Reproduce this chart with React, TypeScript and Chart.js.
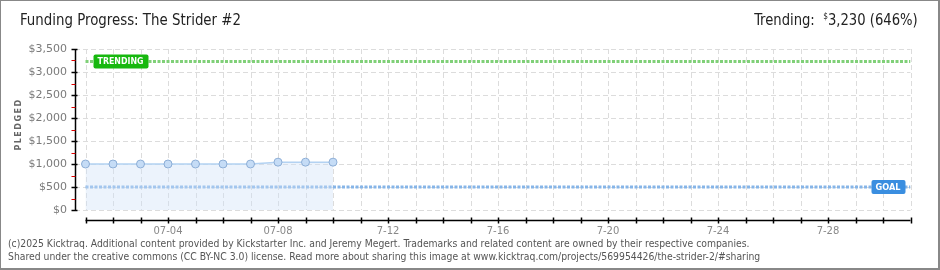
import React, { useEffect, useRef } from "react";
import { Chart, registerables } from "chart.js";

Chart.register(...registerables);

// ---- data ----
const days: number[] = [1, 2, 3, 4, 5, 6, 7, 8, 9, 10];
const pledged: number[] = [1000, 1000, 1000, 1000, 1000, 1000, 1000, 1040, 1040, 1040];
const goal = 500;
const trending = 3230;
const trendingPct = 646;
const firstDay = 1;
const lastDay = 31;
const xTickDays: number[] = [4, 8, 12, 16, 20, 24, 28];
const xTickLabels: string[] = ["07-04", "07-08", "7-12", "7-16", "7-20", "7-24", "7-28"];
const yMax = 3500;
const yMajorStep = 500;
const yMinorStep = 250;

const fmtMoney = (v: number) => "$" + v.toLocaleString("en-US");

const axisPlugin = {
  id: "kickAxes",
  beforeDatasetsDraw(chart: any) {
    const { ctx, chartArea, scales } = chart;
    const xs = scales.x;
    const ys = scales.y;
    ctx.save();
    ctx.strokeStyle = "#dcdcdc";
    ctx.lineWidth = 1;
    ctx.setLineDash([5, 3]);
    for (let v = 0; v <= yMax; v += yMajorStep) {
      const py = Math.round(ys.getPixelForValue(v)) + 0.5;
      ctx.beginPath();
      ctx.moveTo(chartArea.left, py);
      ctx.lineTo(chartArea.right, py);
      ctx.stroke();
    }
    for (let d = firstDay; d <= lastDay; d++) {
      const px = Math.round(xs.getPixelForValue(d)) + 0.5;
      ctx.beginPath();
      ctx.moveTo(px, chartArea.top);
      ctx.lineTo(px, chartArea.bottom);
      ctx.stroke();
    }
    ctx.restore();
  },
  afterDatasetsDraw(chart: any) {
    const { ctx, scales } = chart;
    const xs = scales.x;
    const ys = scales.y;
    ctx.save();
    const drawTag = (text: string, x: number, y: number, w: number, color: string, align: "left" | "right") => {
      const h = 14;
      const left = align === "left" ? x : x - w;
      ctx.fillStyle = color;
      ctx.beginPath();
      (ctx as any).roundRect(left, y - h / 2, w, h, 2);
      ctx.fill();
      ctx.fillStyle = "#ffffff";
      ctx.font = "bold 9px 'DejaVu Sans'";
      ctx.textBaseline = "middle";
      ctx.textAlign = "left";
      ctx.fillText(text, left + 4, y + 0.5, w - 9);
    };
    const ty = ys.getPixelForValue(trending);
    drawTag("TRENDING", xs.getPixelForValue(firstDay) + 8, ty, 55, "#17b80f", "left");
    const gy = ys.getPixelForValue(goal);
    drawTag("GOAL", xs.getPixelForValue(lastDay) - 5, gy, 34, "#3a8ee0", "right");
    ctx.restore();
  },
  afterDraw(chart: any) {
    const { ctx, chartArea, scales } = chart;
    const xs = scales.x;
    const ys = scales.y;
    ctx.save();
    const ax = Math.round(chartArea.left) + 0.5;
    ctx.strokeStyle = "#000";
    ctx.lineWidth = 1.5;
    ctx.beginPath();
    ctx.moveTo(ax, ys.getPixelForValue(yMax));
    ctx.lineTo(ax, ys.getPixelForValue(0));
    ctx.stroke();
    for (let v = 0; v <= yMax; v += yMinorStep) {
      const py = Math.round(ys.getPixelForValue(v)) + 0.5;
      ctx.beginPath();
      if (v % yMajorStep === 0) {
        ctx.strokeStyle = "#000";
        ctx.lineWidth = 1.5;
        ctx.moveTo(ax - 4, py);
        ctx.lineTo(ax + 2, py);
      } else {
        ctx.strokeStyle = "#e00000";
        ctx.lineWidth = 1;
        ctx.moveTo(ax - 4, py);
        ctx.lineTo(ax, py);
      }
      ctx.stroke();
    }
    const by = Math.round(chartArea.bottom) + 10.5;
    ctx.strokeStyle = "#000";
    ctx.lineWidth = 1.5;
    ctx.beginPath();
    ctx.moveTo(xs.getPixelForValue(firstDay), by);
    ctx.lineTo(xs.getPixelForValue(lastDay), by);
    ctx.stroke();
    for (let d = firstDay; d <= lastDay; d++) {
      const px = Math.round(xs.getPixelForValue(d)) + 0.5;
      ctx.beginPath();
      ctx.moveTo(px, by - 3);
      ctx.lineTo(px, by + 3);
      ctx.stroke();
    }
    ctx.translate(19, (chartArea.top + chartArea.bottom) / 2 - 5);
    ctx.rotate(-Math.PI / 2);
    ctx.fillStyle = "#666";
    ctx.font = "bold 8px 'DejaVu Sans'";
    (ctx as any).letterSpacing = "1.5px";
    ctx.textAlign = "center";
    ctx.textBaseline = "middle";
    ctx.fillText("PLEDGED", 0, 0);
    ctx.restore();
  },
};

export default function App() {
  const ref = useRef<HTMLCanvasElement | null>(null);
  useEffect(() => {
    document.body.style.margin = "0";
    const canvas = ref.current!;
    const lineData = (v: number) => [
      { x: firstDay, y: v },
      { x: lastDay, y: v },
    ];
    const chart = new Chart(canvas, {
      type: "line",
      data: {
        datasets: [
          {
            label: "Pledged",
            data: days.map((d, i) => ({ x: d, y: pledged[i] })),
            borderColor: "#b3d2f2",
            borderWidth: 1.5,
            backgroundColor: "rgba(208,226,248,0.4)",
            fill: "origin",
            pointRadius: 4,
            pointBackgroundColor: "#c5dcf6",
            pointBorderColor: "#8daed6",
            pointBorderWidth: 1,
            tension: 0,
          },
          {
            label: "Goal",
            data: lineData(goal),
            borderColor: "#86b5e8",
            borderWidth: 3,
            borderDash: [3, 1.5],
            pointRadius: 0,
            fill: false,
          },
          {
            label: "Trending",
            data: lineData(trending),
            borderColor: "#80d078",
            borderWidth: 3,
            borderDash: [3, 1.5],
            pointRadius: 0,
            fill: false,
          },
        ],
      },
      options: {
        animation: false,
        responsive: false,
        maintainAspectRatio: false,
        events: [],
        layout: { padding: { left: 0, right: 29.5, top: 49, bottom: 30 } },
        plugins: { legend: { display: false }, tooltip: { enabled: false }, title: { display: false } },
        scales: {
          x: {
            type: "linear",
            min: 0.618,
            max: lastDay,
            afterFit: (s: any) => {
              s.height = 30;
            },
            grid: { display: false, drawTicks: false },
            border: { display: false },
            ticks: {
              stepSize: 1,
              autoSkip: false,
              includeBounds: false,
              maxRotation: 0,
              padding: 15,
              color: "#888",
              font: { family: "'DejaVu Sans'", size: 10 },
              callback: (v: any) => {
                const i = xTickDays.indexOf(Number(v));
                return i >= 0 ? xTickLabels[i] : "";
              },
            },
          },
          y: {
            type: "linear",
            min: 0,
            max: yMax,
            afterFit: (s: any) => {
              s.width = 75;
            },
            grid: { display: false, drawTicks: false },
            border: { display: false },
            ticks: {
              stepSize: yMinorStep,
              autoSkip: false,
              padding: 8,
              color: "#7a7a7a",
              font: { family: "'DejaVu Sans'", size: 11 },
              callback: (v: any) => (Number(v) % yMajorStep === 0 ? fmtMoney(Number(v)) : ""),
            },
          },
        },
      },
      plugins: [axisPlugin],
    } as any);
    return () => chart.destroy();
  }, []);

  const cond: React.CSSProperties = { fontFamily: "'DejaVu Sans', sans-serif", fontStretch: "condensed", fontWeight: 400 };
  return (
    <div style={{ position: "relative", width: 940, height: 270, background: "#fff", overflow: "hidden" }}>
      <canvas ref={ref} width={940} height={270} style={{ position: "absolute", left: 0, top: 0, width: 940, height: 270 }} />
      <div style={{ ...cond, position: "absolute", left: 20, top: 10, fontSize: 16.5, color: "#222", whiteSpace: "nowrap", transform: "scaleX(0.9)", transformOrigin: "left center" }}>
        Funding Progress: The Strider #2
      </div>
      <div style={{ ...cond, position: "absolute", right: 22, top: 10, fontSize: 16, color: "#222", whiteSpace: "nowrap", transform: "scaleX(0.915)", transformOrigin: "right center" }}>
        Trending:&nbsp; <span style={{ fontSize: 9, verticalAlign: "6px" }}>$</span>
        {trending.toLocaleString("en-US")} ({trendingPct}%)
      </div>
      <div style={{ ...cond, position: "absolute", left: 8, top: 237, fontSize: 10.3, lineHeight: "12.5px", color: "#555", whiteSpace: "nowrap" }}>
        (c)2025 Kicktraq. Additional content provided by Kickstarter Inc. and Jeremy Megert. Trademarks and related content are owned by their respective companies.
        <br />
        Shared under the creative commons (CC BY-NC 3.0) license. Read more about sharing this image at www.kicktraq.com/projects/569954426/the-strider-2/#sharing
      </div>
      <div style={{ position: "absolute", left: 0, top: 0, width: 940, height: 270, boxSizing: "border-box", borderTop: "1px solid #888", borderLeft: "1px solid #888", borderRight: "2px solid #888", borderBottom: "2px solid #888", pointerEvents: "none" }} />
    </div>
  );
}
